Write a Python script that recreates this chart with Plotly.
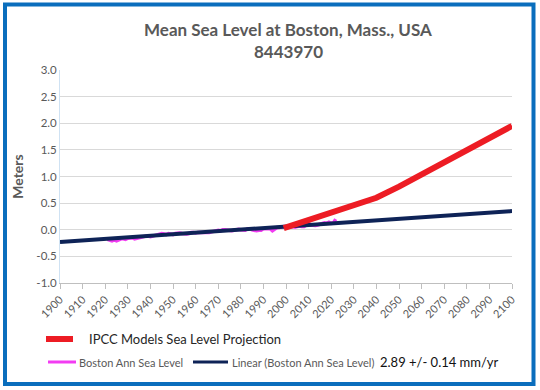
import plotly.graph_objects as go

# ---------------- data ----------------
obs_years = list(range(1921, 2023))
obs_vals = [
    -0.18, -0.20, -0.21, -0.19, -0.21, -0.19, -0.17, -0.17, -0.18, -0.16,
    -0.15, -0.15, -0.17, -0.16, -0.15, -0.13, -0.13, -0.12, -0.12, -0.13,
    -0.12, -0.11, -0.09, -0.08, -0.07, -0.08, -0.09, -0.07, -0.08, -0.09,
    -0.07, -0.06, -0.06, -0.07, -0.08, -0.08, -0.07, -0.05, -0.05, -0.06,
    -0.05, -0.05, -0.06, -0.06, -0.06, -0.05, -0.04, -0.03, -0.02, -0.01,
    -0.02, 0.00, 0.00, -0.01, -0.01, -0.02, -0.01, 0.00, 0.01, 0.00,
    -0.01, -0.01, 0.02, 0.02, 0.00, -0.01, -0.02, -0.01, -0.01, 0.02,
    0.02, 0.01, 0.02, -0.02, 0.02, 0.04, 0.04, 0.05, 0.06, 0.04,
    0.04, 0.05, 0.06, 0.05, 0.06, 0.07, 0.06, 0.06, 0.09, 0.12,
    0.09, 0.08, 0.08, 0.09, 0.10, 0.11, 0.13, 0.12, 0.14, 0.12,
    0.13, 0.20,
]
trend_years = [1900, 2100]
trend_vals = [-0.23, 0.35]
ipcc_years = [1999, 2010, 2020, 2030, 2040, 2050, 2060, 2070, 2080, 2090, 2100]
ipcc_vals = [0.03, 0.18, 0.32, 0.46, 0.60, 0.81, 1.04, 1.27, 1.50, 1.73, 1.95]

x_ticks = list(range(1900, 2101, 10))
y_ticks = [-1.0, -0.5, 0.0, 0.5, 1.0, 1.5, 2.0, 2.5, 3.0]

title_line1 = "Mean Sea Level at Boston, Mass., USA"
title_line2 = "8443970"
y_title = "Meters"
name_ipcc = "IPCC Models Sea Level Projection"
name_obs = "Boston Ann Sea Level"
name_trend = "Linear (Boston Ann Sea Level)"
rate_text = "2.89 +/- 0.14 mm/yr"

C_RED = "#ed1c24"
C_MAG = "#f23cf2"
C_NAVY = "#0e2357"
C_FRAME = "#0a6ebd"
C_TEXT = "#595959"

FONT = "Lato, 'Open Sans', sans-serif"

W, H = 540, 390
ML, MR, MT, MB = 60, 28, 70, 107
PW, PH = W - ML - MR, H - MT - MB


def px(x):
    return (x - ML) / PW


def py(y):
    return (H - MB - y) / PH


fig = go.Figure()
fig.add_trace(go.Scatter(x=obs_years, y=obs_vals, mode="lines", name=name_obs,
                         line=dict(color=C_MAG, width=3.5), showlegend=False))
fig.add_trace(go.Scatter(x=trend_years, y=trend_vals, mode="lines", name=name_trend,
                         line=dict(color=C_NAVY, width=4), showlegend=False))
fig.add_trace(go.Scatter(x=ipcc_years, y=ipcc_vals, mode="lines", name=name_ipcc,
                         line=dict(color=C_RED, width=6), showlegend=False))

shapes = [
    dict(type="rect", xref="paper", yref="paper",
         x0=px(5), x1=px(533.5), y0=py(384), y1=py(4.5),
         line=dict(color=C_FRAME, width=4), layer="above"),
    dict(type="line", xref="paper", yref="paper",
         x0=px(46), x1=px(73), y0=py(339), y1=py(339),
         line=dict(color=C_RED, width=6)),
    dict(type="line", xref="paper", yref="paper",
         x0=px(48), x1=px(76), y0=py(362), y1=py(362),
         line=dict(color=C_MAG, width=3)),
    dict(type="line", xref="paper", yref="paper",
         x0=px(193), x1=px(228), y0=py(362), y1=py(362),
         line=dict(color=C_NAVY, width=3)),
]

annotations = [
    dict(text="<b>" + title_line1 + "</b>", xref="paper", yref="paper",
         x=px(288), y=py(30), xanchor="center", yanchor="middle", showarrow=False,
         font=dict(family=FONT, size=17, color=C_TEXT)),
    dict(text="<b>" + title_line2 + "</b>", xref="paper", yref="paper",
         x=px(288), y=py(52), xanchor="center", yanchor="middle", showarrow=False,
         font=dict(family=FONT, size=17, color=C_TEXT)),
    dict(text=name_ipcc, xref="paper", yref="paper",
         x=px(87), y=py(339), xanchor="left", yanchor="middle", showarrow=False,
         font=dict(family=FONT, size=13, color="#262626")),
    dict(text=name_obs, xref="paper", yref="paper",
         x=px(77), y=py(362), xanchor="left", yanchor="middle", showarrow=False,
         font=dict(family=FONT, size=11, color=C_TEXT)),
    dict(text=name_trend, xref="paper", yref="paper",
         x=px(230), y=py(362), xanchor="left", yanchor="middle", showarrow=False,
         font=dict(family=FONT, size=11, color=C_TEXT)),
    dict(text=rate_text, xref="paper", yref="paper",
         x=px(378), y=py(362), xanchor="left", yanchor="middle", showarrow=False,
         font=dict(family=FONT, size=13, color="#111111")),
]

fig.update_layout(
    width=W, height=H,
    margin=dict(l=ML, r=MR, t=MT, b=MB),
    paper_bgcolor="white", plot_bgcolor="white",
    showlegend=False,
    shapes=shapes, annotations=annotations,
    font=dict(family=FONT, color=C_TEXT),
    xaxis=dict(range=[1900, 2100], tickmode="array", tickvals=x_ticks,
               ticktext=[str(t) for t in x_ticks], tickangle=-45,
               ticks="outside", ticklen=5, tickcolor="#bfbfbf",
               showline=True, linecolor="#bfbfbf", linewidth=1,
               showgrid=False, zeroline=False,
               tickfont=dict(family=FONT, size=11, color=C_TEXT)),
    yaxis=dict(range=[-1, 3], tickmode="array", tickvals=y_ticks,
               ticktext=["%.1f" % v for v in y_ticks],
               showgrid=True, gridcolor="#d9d9d9", gridwidth=1,
               zeroline=False, showline=True, linecolor="#cfe2f3", linewidth=1,
               ticks="", tickfont=dict(family=FONT, size=11.5, color=C_TEXT),
               title=dict(text="<b>" + y_title + "</b>", standoff=9,
                          font=dict(family=FONT, size=14, color=C_TEXT))),
)

fig.write_html("out.html", config={"displayModeBar": False},
               post_script="document.body.style.margin='0px';document.body.style.padding='0px';")
